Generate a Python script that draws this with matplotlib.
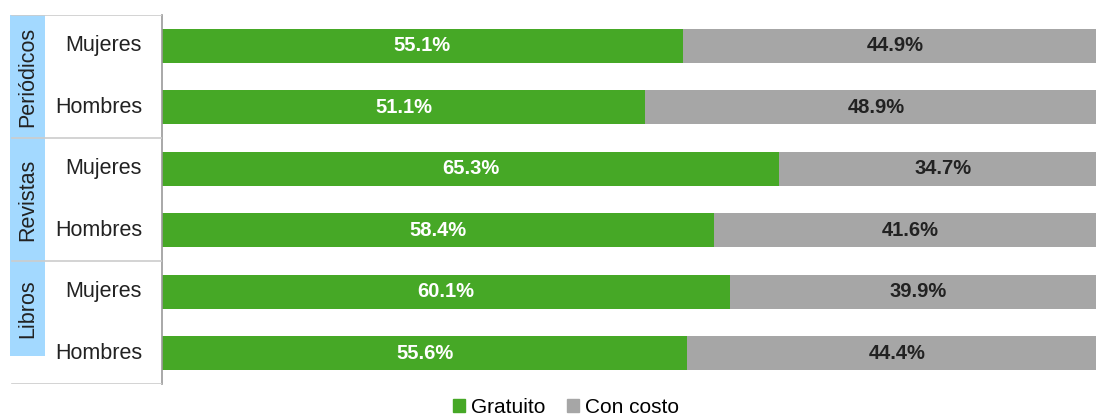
import matplotlib.pyplot as plt
from matplotlib.patches import Rectangle

plt.rcParams['font.family'] = ['Liberation Sans', 'DejaVu Sans']

groups = ['Periódicos', 'Revistas', 'Libros']
sexes = ['Mujeres', 'Hombres']
gratuito = [55.1, 51.1, 65.3, 58.4, 60.1, 55.6]
con_costo = [44.9, 48.9, 34.7, 41.6, 39.9, 44.4]

green = '#46a826'
gray = '#a6a6a6'
blue = '#a3d9ff'

W, H = 1096, 415
fig = plt.figure(figsize=(W / 100, H / 100), dpi=100)

top_px, bot_px = 15, 384
left_px = 162
plot_w = 945  # plot area runs past the right edge of the image
ax = fig.add_axes([left_px / W, 1 - bot_px / H, plot_w / W, (bot_px - top_px) / H])

rows = list(range(len(gratuito)))
ax.barh(rows, gratuito, height=0.55, color=green)
ax.barh(rows, con_costo, left=gratuito, height=0.55, color=gray)
for i in rows:
    ax.text(gratuito[i] / 2, i, f'{gratuito[i]:.1f}%', ha='center', va='center',
            color='white', fontsize=14.5, fontweight='bold')
    ax.text(gratuito[i] + con_costo[i] / 2, i, f'{con_costo[i]:.1f}%', ha='center', va='center',
            color='#222222', fontsize=14.5, fontweight='bold')

ax.set_xlim(0, 100)
ax.set_ylim(len(rows) - 0.5, -0.5)
ax.set_xticks([])
ax.set_yticks([])
for s in ['top', 'right', 'bottom']:
    ax.spines[s].set_visible(False)
ax.spines['left'].set_color('#999999')
ax.spines['left'].set_linewidth(1.2)

# left category panel
lax = fig.add_axes([10 / W, 1 - bot_px / H, (left_px - 10) / W, (bot_px - top_px) / H])
lax.set_xlim(0, left_px - 10)
lax.set_ylim(len(rows) - 0.5, -0.5)
lax.axis('off')

strip_ends = [1.5, 3.5, 5.05]
for g, name in enumerate(groups):
    y0 = g * 2 - 0.5
    y1 = strip_ends[g]
    lax.add_patch(Rectangle((0, y0), 35, y1 - y0, color=blue, lw=0))
    lax.text(17.5, (y0 + y1) / 2, name, rotation=90, ha='center', va='center',
             fontsize=15.5, color='#222222')
    lax.plot([2, left_px - 10], [y0, y0], color='#cccccc', lw=1.2)
    for k, sx in enumerate(sexes):
        lax.text(132, g * 2 + k, sx, ha='right', va='center', fontsize=15.5, color='#222222')
lax.plot([2, left_px - 10], [5.5, 5.5], color='#cccccc', lw=1.2)

handles = [Rectangle((0, 0), 1, 1, color=green), Rectangle((0, 0), 1, 1, color=gray)]
fig.legend(handles, ['Gratuito', 'Con costo'], loc='center', bbox_to_anchor=(566 / W, 1 - 407 / H),
           ncol=2, frameon=False, fontsize=15, handlelength=0.6, handleheight=0.6,
           handletextpad=0.3, columnspacing=1.0)

fig.savefig('out.png', dpi=100)
